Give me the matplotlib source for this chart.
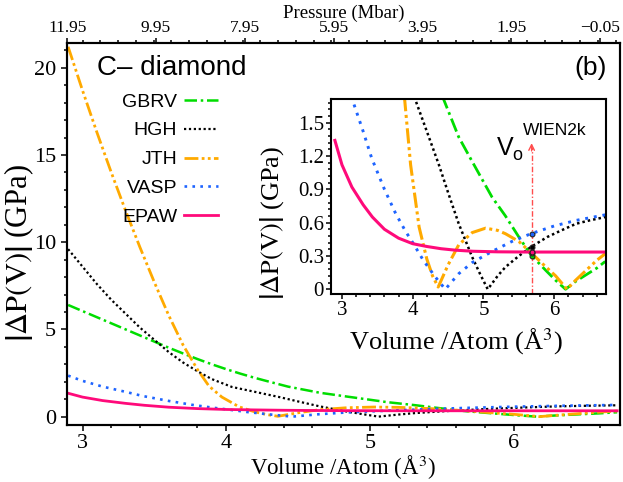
import matplotlib
matplotlib.use('Agg')
import matplotlib.pyplot as plt
from matplotlib.ticker import AutoMinorLocator, FixedLocator, FixedFormatter, MultipleLocator

plt.rcParams['font.family'] = 'serif'
plt.rcParams['font.serif'] = ['Liberation Serif', 'DejaVu Serif']
plt.rcParams['mathtext.fontset'] = 'stix'

# ---------------- data ----------------
labels = ['GBRV', 'HGH', 'JTH', 'VASP', 'EPAW']

gbrv_v = [2.9, 3.0, 3.1, 3.2, 3.3, 3.4, 3.5, 3.6, 3.7, 3.8, 3.9, 4.0, 4.1, 4.2, 4.3, 4.43,
          4.65, 4.84, 5.12, 5.31, 5.5, 5.67, 5.88, 6.02, 6.16, 6.3, 6.45, 6.6, 6.72]
gbrv_p = [6.4, 6.05, 5.7, 5.35, 5.0, 4.65, 4.3, 3.95, 3.62, 3.3, 3.0, 2.72, 2.46, 2.22, 2.0, 1.72,
          1.37, 1.15, 0.83, 0.66, 0.47, 0.31, 0.17, 0.08, 0.0, 0.07, 0.13, 0.19, 0.25]

hgh_v = [2.9, 3.0, 3.1, 3.2, 3.3, 3.4, 3.5, 3.6, 3.7, 3.8, 3.9, 4.04, 4.2, 4.37, 4.5, 4.65,
         4.84, 4.95, 5.06, 5.2, 5.31, 5.5, 5.67, 5.9, 6.1, 6.31, 6.5, 6.72]
hgh_p = [9.6, 8.6, 7.6, 6.7, 5.9, 5.1, 4.4, 3.7, 3.1, 2.6, 2.15, 1.70, 1.42, 1.12, 0.87, 0.59,
         0.29, 0.14, 0.0, 0.12, 0.20, 0.30, 0.38, 0.47, 0.53, 0.59, 0.62, 0.65]

jth_v = [2.9, 3.0, 3.1, 3.2, 3.3, 3.4, 3.5, 3.6, 3.7, 3.8, 3.88, 3.97, 4.09, 4.2, 4.28, 4.36,
         4.5, 4.65, 4.84, 5.03, 5.2, 5.31, 5.5, 5.67, 5.85, 6.02, 6.18, 6.3, 6.45, 6.6, 6.72]
jth_p = [21.2, 18.7, 16.3, 14.0, 11.8, 9.7, 7.7, 5.8, 4.1, 2.7, 1.75, 1.12, 0.56, 0.27, 0.12, 0.02,
         0.22, 0.40, 0.51, 0.55, 0.53, 0.50, 0.43, 0.33, 0.22, 0.12, 0.0, 0.08, 0.17, 0.26, 0.32]

vasp_v = [2.9, 3.0, 3.14, 3.3, 3.42, 3.6, 3.76, 3.9, 4.0, 4.15, 4.32, 4.46, 4.65, 4.84, 5.12,
          5.4, 5.67, 6.0, 6.31, 6.72]
vasp_p = [2.35, 2.05, 1.72, 1.42, 1.18, 0.90, 0.68, 0.52, 0.42, 0.26, 0.11, 0.0, 0.14, 0.24, 0.34,
          0.43, 0.50, 0.57, 0.62, 0.67]

epaw_v = [2.9, 3.0, 3.14, 3.3, 3.43, 3.6, 3.8, 4.0, 4.2, 4.4, 4.6, 4.85, 5.2, 5.67, 6.2, 6.72]
epaw_p = [1.34, 1.12, 0.92, 0.76, 0.65, 0.54, 0.46, 0.41, 0.385, 0.365, 0.352, 0.342, 0.337,
          0.335, 0.335, 0.335]

v0_wien2k = 5.68
v0_p = [0.30, 0.38, 0.33, 0.50, 0.335]   # GBRV, HGH, JTH, VASP, EPAW at V0

main_xticks = [3, 4, 5, 6]
main_yticks = [0, 5, 10, 15, 20]
main_ylabels = ['0', '5', '10', '15', '20']
main_xlabels = ['3', '4', '5', '6']
pressure_ticks = [11.95, 9.95, 7.95, 5.95, 3.95, 1.95, -0.05]
pressure_labels = ['11.95', '9.95', '7.95', '5.95', '3.95', '1.95', '\u22120.05']
inset_yticks = [0, 0.3, 0.6, 0.9, 1.2, 1.5]
inset_ylabels = ['0', '0.3', '0.6', '0.9', '1.2', '1.5']

# ---------------- styles ----------------
SERIF = 'Liberation Serif'
SANS = 'Liberation Sans'
colors = ['#00dd00', '#000000', '#ffaa00', '#1e64ff', '#ff0a7a']
styles = [(0, (5, 1.5, 1, 1.5)), (0, (1, 1.2)), (0, (5, 1.2, 1, 1.2, 1, 1.2)), (0, (1, 2)), '-']
widths = [1.8, 1.6, 2.0, 1.9, 2.0]
series = [(gbrv_v, gbrv_p), (hgh_v, hgh_p), (jth_v, jth_p), (vasp_v, vasp_p), (epaw_v, epaw_p)]

W, H = 623, 482
fig = plt.figure(figsize=(W / 100, H / 100), dpi=100)
ax = fig.add_axes([66.7 / W, 1 - 425 / H, (620 - 66.7) / W, (425 - 43.3) / H])

handles = []
for (v, p), c, ls, lw, lab in zip(series, colors, styles, widths, labels):
    h, = ax.plot(v, p, color=c, ls=ls, lw=lw, label=lab)
    handles.append(h)

ax.set_xlim(2.89, 6.74)
ax.set_ylim(-0.48, 21.4)
ax.xaxis.set_major_locator(FixedLocator(main_xticks))
ax.xaxis.set_major_formatter(FixedFormatter(main_xlabels))
ax.yaxis.set_major_locator(FixedLocator(main_yticks))
ax.yaxis.set_major_formatter(FixedFormatter(main_ylabels))
ax.xaxis.set_minor_locator(MultipleLocator(0.2))
ax.yaxis.set_minor_locator(MultipleLocator(1))
ax.tick_params(which='both', direction='out', width=1.1, labelsize=16,
               labelfontfamily=SERIF, right=False, top=False)
ax.tick_params(which='major', length=4)
ax.tick_params(which='minor', length=2.5)
ax.tick_params(axis='x', pad=2.5)
for s in ax.spines.values():
    s.set_linewidth(1.5)
ax.set_xlabel('Volume /Atom (Å$^{3}$)', fontsize=16.5, family=SERIF)
ax.xaxis.set_label_coords(0.5, -0.075)
ax.set_ylabel(r'$\left|\Delta \mathrm{P(V)}\right|$ (GPa)', fontsize=22, family=SERIF)
ax.yaxis.set_label_coords(-0.056, 0.45)

# top pressure axis
ax2 = ax.twiny()
ax2.set_xlim(11.96, -0.50)
ax2.xaxis.set_major_locator(FixedLocator(pressure_ticks))
ax2.xaxis.set_major_formatter(FixedFormatter(pressure_labels))
ax2.xaxis.set_minor_locator(MultipleLocator(0.4))
ax2.tick_params(which='both', direction='out', width=1.1, labelsize=12.5,
                labelfontfamily=SERIF, pad=1.2)
ax2.tick_params(which='major', length=3.8)
ax2.tick_params(which='minor', length=2.3)
ax2.set_xlabel('Pressure (Mbar)', fontsize=13.5, family=SERIF)
ax2.xaxis.set_label_coords(0.5, 1.067)
for s in ax2.spines.values():
    s.set_linewidth(1.5)

# texts
ax.text(0.055, 0.935, 'C\u2013 diamond', transform=ax.transAxes, fontsize=20,
        family=SANS, ha='left', va='center')
ax.text(0.976, 0.935, '(b)', transform=ax.transAxes, fontsize=19,
        family=SANS, ha='right', va='center')

leg = ax.legend(handles=handles, loc='upper right', bbox_to_anchor=(0.2734, 0.870),
                frameon=False, markerfirst=False, alignment='right',
                prop={'family': SANS, 'size': 14},
                handlelength=1.75, handletextpad=0.35, labelspacing=0.58,
                borderpad=0, borderaxespad=0)

# ---------------- inset ----------------
axi = fig.add_axes([331 / W, 1 - 293.7 / H, (605.7 - 331) / W, (293.7 - 99.3) / H])
for (v, p), c, ls, lw in zip(series, colors, styles, widths):
    axi.plot(v, p, color=c, ls=ls, lw=lw + 0.2)
axi.set_xlim(2.845, 6.727)
axi.set_ylim(-0.04, 1.71)
axi.xaxis.set_major_locator(FixedLocator(main_xticks))
axi.xaxis.set_major_formatter(FixedFormatter(main_xlabels))
axi.xaxis.set_minor_locator(MultipleLocator(0.2))
axi.yaxis.set_major_locator(FixedLocator(inset_yticks))
axi.yaxis.set_major_formatter(FixedFormatter(inset_ylabels))
axi.yaxis.set_minor_locator(AutoMinorLocator(5))
axi.tick_params(which='both', direction='out', width=1.1, labelsize=15,
                labelfontfamily=SERIF, pad=1.5)
axi.tick_params(which='major', length=3.5)
axi.tick_params(which='minor', length=2)
for s in axi.spines.values():
    s.set_linewidth(1.5)
axi.set_xlabel('Volume /Atom (Å$^{3}$)', fontsize=19, family=SERIF)
axi.xaxis.set_label_coords(0.455, -0.17)
axi.set_ylabel(r'$\left|\Delta \mathrm{P(V)}\right|$ (GPa)', fontsize=19, family=SERIF)
axi.yaxis.set_label_coords(-0.165, 0.365)

# V0 marker line with arrow
axi.plot([v0_wien2k, v0_wien2k], [-0.04, 1.28], color='#ff4d4d', ls=(0, (4, 1.5, 1, 1.5)), lw=1.0)
axi.annotate('', xy=(v0_wien2k, 1.34), xytext=(v0_wien2k, 1.22),
             arrowprops=dict(arrowstyle='->', color='#ff4d4d', lw=1.0, mutation_scale=10))
for pv, c in zip(v0_p, colors):
    axi.plot([v0_wien2k], [pv], marker='o', ms=3.5, mfc=c, mec='#202020', mew=0.8, ls='none')

axi.text(5.31, 1.27, 'V', fontsize=18, family=SANS, ha='center', va='center')
axi.text(5.48, 1.20, 'o', fontsize=13, family=SANS, ha='center', va='center')
axi.text(5.56, 1.43, 'WIEN2k', fontsize=12.5, family=SANS, ha='left', va='center')

fig.savefig('out.png', dpi=100)
